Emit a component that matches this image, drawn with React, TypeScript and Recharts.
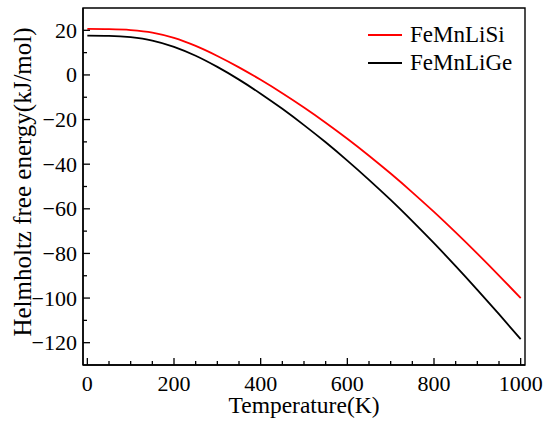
import React from 'react';
import { LineChart, Line, XAxis, YAxis, ReferenceArea, Legend } from 'recharts';

const temperatures = [0, 50, 100, 150, 200, 250, 300, 350, 400, 450, 500, 550, 600, 650, 700, 750, 800, 850, 900, 950, 1000];
const feMnLiSi = [20.6, 20.5, 20.1, 19.0, 16.6, 13.0, 8.5, 3.4, -2.2, -8.2, -14.6, -21.4, -28.6, -36.2, -44.2, -52.6, -61.4, -70.6, -80.1, -89.9, -100.0];
const feMnLiGe = [17.6, 17.5, 16.9, 15.4, 12.6, 8.6, 3.6, -2.1, -8.4, -15.2, -22.5, -30.2, -38.4, -47.0, -56.0, -65.5, -75.4, -85.7, -96.3, -107.2, -118.4];

const xMajorTicks = [0, 200, 400, 600, 800, 1000];
const xMinorTicks = [50, 100, 150, 250, 300, 350, 450, 500, 550, 650, 700, 750, 850, 900, 950];
const yMajorTicks = [-120, -100, -80, -60, -40, -20, 0, 20];
const yMinorTicks = [-110, -90, -70, -50, -30, -10, 10];

const seriesNames = ['FeMnLiSi', 'FeMnLiGe'];
const seriesColors = ['#ff0000', '#000000'];

const FONT = "'Liberation Serif', 'Times New Roman', serif";

const rows = temperatures.map((T, i) => ({ T, si: feMnLiSi[i], ge: feMnLiGe[i] }));

const fmt = (v: number) => String(v).replace('-', '\u2212');

const XTick = (props: any) => {
  const { x, y, payload } = props;
  const major = xMajorTicks.includes(payload.value);
  return (
    <g>
      <line x1={x} x2={x} y1={y} y2={y - (major ? 7 : 4)} stroke="#000" strokeWidth={1.3} />
      {major && (
        <text x={x} y={y + 25.5} textAnchor="middle" fontSize={22} fontFamily={FONT} fill="#000">
          {fmt(payload.value)}
        </text>
      )}
    </g>
  );
};

const YTick = (props: any) => {
  const { x, y, payload } = props;
  const major = yMajorTicks.includes(payload.value);
  return (
    <g>
      <line x1={x} x2={x + (major ? 7 : 4)} y1={y} y2={y} stroke="#000" strokeWidth={1.3} />
      {major && (
        <text x={x - 6} y={y} dy="0.34em" textAnchor="end" fontSize={22} fontFamily={FONT} fill="#000">
          {fmt(payload.value)}
        </text>
      )}
    </g>
  );
};

const LegendContent = () => (
  <div style={{ fontFamily: FONT, fontSize: 23, color: '#000', lineHeight: '28px' }}>
    {seriesNames.map((name, i) => (
      <div key={name} style={{ display: 'flex', alignItems: 'center', whiteSpace: 'nowrap' }}>
        <svg width={44} height={28}>
          <line x1={2} x2={36} y1={14} y2={14} stroke={seriesColors[i]} strokeWidth={1.8} />
        </svg>
        <span>{name}</span>
      </div>
    ))}
  </div>
);

const YLabel = () => {
  const cx = 31;
  const cy = 182;
  return (
    <text
      x={cx}
      y={cy}
      transform={`rotate(-90 ${cx} ${cy})`}
      textAnchor="middle"
      fontSize={25}
      fontFamily={FONT}
      fill="#000"
    >
      Helmholtz free energy(kJ/mol)
    </text>
  );
};

export default function App() {
  return (
    <div style={{ position: 'absolute', left: 0, top: 0, background: '#fff' }}>
      <LineChart width={550} height={425} data={rows} margin={{ top: 8, right: 25, bottom: 0, left: 0 }}>
        <XAxis
          dataKey="T"
          type="number"
          domain={[-10, 1010]}
          allowDataOverflow
          ticks={[...xMajorTicks, ...xMinorTicks].sort((a, b) => a - b)}
          interval={0}
          height={60}
          tickSize={0}
          tickMargin={0}
          tickLine={false}
          tick={<XTick />}
          axisLine={{ stroke: '#000', strokeWidth: 1.4 }}
          label={{ value: 'Temperature(K)', position: 'insideBottom', offset: 12, fontSize: 23.5, fontFamily: FONT, fill: '#000' }}
        />
        <YAxis
          type="number"
          domain={[-130, 30]}
          allowDataOverflow
          ticks={[...yMajorTicks, ...yMinorTicks].sort((a, b) => a - b)}
          interval={0}
          width={83}
          tickSize={0}
          tickMargin={0}
          tickLine={false}
          tick={<YTick />}
          axisLine={{ stroke: '#000', strokeWidth: 1.4 }}
          label={{ content: <YLabel /> }}
        />
        <ReferenceArea x1={-10} x2={1010} y1={-130} y2={30} fill="none" stroke="#000" strokeWidth={1.4} ifOverflow="visible" />
        <Line type="monotone" dataKey="si" name={seriesNames[0]} stroke={seriesColors[0]} strokeWidth={1.8} dot={false} isAnimationActive={false} />
        <Line type="monotone" dataKey="ge" name={seriesNames[1]} stroke={seriesColors[1]} strokeWidth={1.8} dot={false} isAnimationActive={false} />
        <Legend
          layout="vertical"
          align="center"
          verticalAlign="middle"
          content={<LegendContent />}
          wrapperStyle={{ position: 'absolute', left: 366, top: 21, width: 'auto' }}
        />
      </LineChart>
    </div>
  );
}
